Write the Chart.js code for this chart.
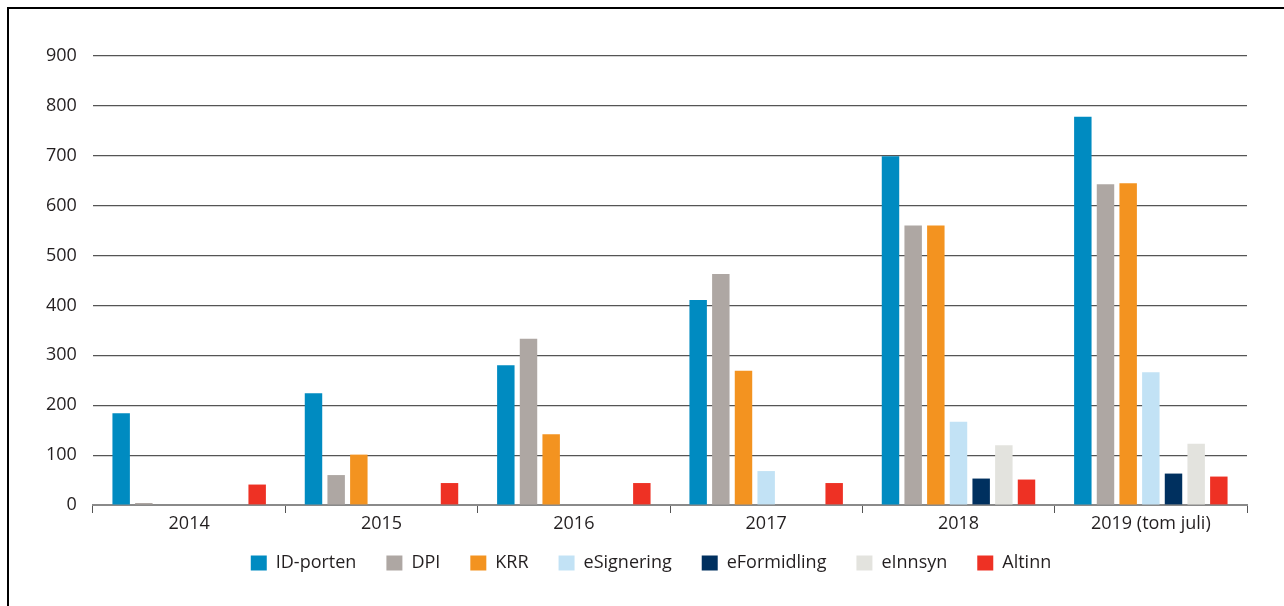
<!DOCTYPE html>
<html>
<head>
<meta charset="utf-8">
<script src="https://cdn.jsdelivr.net/npm/chart.js@4/dist/chart.umd.min.js"></script>
<style>
  html, body { margin: 0; padding: 0; background: #fff; }
  #wrap { position: relative; width: 1284px; height: 606px; overflow: hidden; }
  #frame { position: absolute; left: 7px; top: 7px; width: 1290px; height: 620px;
           border-top: 2px solid #000; border-left: 2px solid #000; }
  canvas { position: absolute; left: 0; top: 0; }
</style>
</head>
<body>
<div id="wrap">
  <div id="frame"></div>
  <canvas id="chart" width="1284" height="606"></canvas>
</div>
<script>
const years = ["2014", "2015", "2016", "2017", "2018", "2019 (tom juli)"];

const idPorten = [184, 224, 280, 411, 699, 778];
const dpi = [4, 60, 333, 463, 560, 643];
const krr = [0, 101, 142, 269, 560, 645];
const eSignering = [0, 0, 0, 68, 167, 266];
const eFormidling = [0, 0, 0, 0, 53, 63];
const eInnsyn = [0, 0, 0, 0, 120, 123];
const altinn = [41, 44, 44, 44, 51, 57];

const FONT = "'Open Sans', 'Noto Sans', sans-serif";

function series(label, data, color) {
  return {
    label,
    data,
    backgroundColor: color,
    borderWidth: 0,
    categoryPercentage: 0.825,
    barPercentage: 0.77,
  };
}

// default legend items, with a trailing en space to widen the gaps a bit
function legendLabels(chart) {
  const items = Chart.defaults.plugins.legend.labels.generateLabels(chart);
  items.forEach((it) => { it.text = it.text + "\u2002"; });
  return items;
}

new Chart(document.getElementById("chart"), {
  type: "bar",
  data: {
    labels: years,
    datasets: [
      series("ID-porten", idPorten, "#008bc1"),
      series("DPI", dpi, "#aea7a3"),
      series("KRR", krr, "#f39320"),
      series("eSignering", eSignering, "#c2e2f5"),
      series("eFormidling", eFormidling, "#00305f"),
      series("eInnsyn", eInnsyn, "#e3e3de"),
      series("Altinn", altinn, "#ee3124"),
    ],
  },
  options: {
    responsive: false,
    animation: false,
    layout: { padding: { top: 56, right: 37, bottom: 24, left: 64 } },
    plugins: {
      tooltip: { enabled: false },
      legend: {
        position: "bottom",
        labels: {
          boxWidth: 16,
          boxHeight: 15,
          padding: 21,
          color: "#231f20",
          font: { family: FONT, size: 18 },
          generateLabels: legendLabels,
        },
      },
    },
    scales: {
      x: {
        afterFit: (s) => { s.height = 28; },
        grid: {
          offset: true,
          drawOnChartArea: false,
          drawTicks: true,
          tickLength: 8,
          color: "#555",
        },
        border: { display: true, color: "#8a8a8a", width: 2 },
        ticks: {
          color: "#231f20",
          padding: 0,
          font: { family: FONT, size: 18 },
        },
      },
      y: {
        min: 0,
        max: 900,
        afterFit: (s) => { s.width = 29; },
        grid: { color: "#555", lineWidth: 1.2, drawTicks: false },
        border: { display: false },
        ticks: {
          stepSize: 100,
          // mirrored so the labels are not clipped to the narrow axis box
          mirror: true,
          crossAlign: "far",
          padding: -47,
          color: "#231f20",
          font: { family: FONT, size: 18 },
        },
      },
    },
  },
});
</script>
</body>
</html>
